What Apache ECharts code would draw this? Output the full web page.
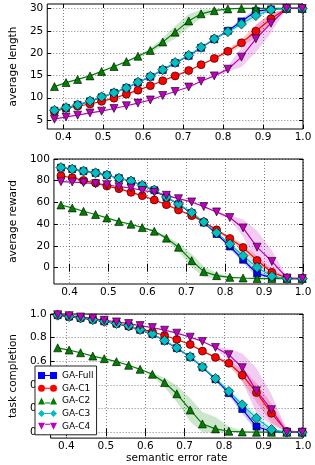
<!DOCTYPE html>
<html><head><meta charset="utf-8">
<script src="https://cdn.jsdelivr.net/npm/echarts@6/dist/echarts.min.js"></script>
<style>html,body{margin:0;padding:0;background:#fff}#c{width:315px;height:465px}</style>
</head><body><div id="c"></div>
<script>
// ---- data ----
const X = [0.378, 0.407, 0.436, 0.467, 0.496, 0.527, 0.558, 0.587, 0.618, 0.649, 0.680, 0.714, 0.745, 0.778, 0.812, 0.846, 0.882, 0.920, 0.959, 0.998];
const xTicks = [0.4, 0.5, 0.6, 0.7, 0.8, 0.9, 1.0];
const lenTicks = [5, 10, 15, 20, 25, 30];
const rewTicks = [0, 20, 40, 60, 80, 100];
const cmpTicks = [0.0, 0.2, 0.4, 0.6, 0.8, 1.0];
const seriesNames = ['GA-Full', 'GA-C1', 'GA-C2', 'GA-C3', 'GA-C4'];

const lenFull = [7.1, 7.7, 8.4, 9.2, 10.1, 11.1, 12.2, 13.4, 14.7, 16.2, 17.8, 19.4, 21.2, 23.1, 25.0, 27.1, 29.4, 29.8, 30, 30];
const lenC1   = [6.9, 7.7, 8.1, 8.6, 9.2, 9.9, 10.8, 11.7, 12.7, 13.8, 14.9, 16.1, 17.4, 18.8, 20.4, 22.3, 24.9, 27.7, 30, 30];
const lenC2   = [12.5, 13.4, 14.1, 14.9, 15.9, 17.0, 18.1, 19.3, 20.6, 22.5, 24.7, 27.2, 28.8, 29.5, 29.9, 30, 30, 30, 30, 30];
const lenC3   = [7.2, 7.8, 8.4, 9.3, 10.2, 11.1, 12.2, 13.5, 14.8, 16.3, 17.9, 19.5, 21.3, 23.2, 24.8, 26.5, 28.4, 29.7, 30, 30];
const lenC4   = [5.2, 5.7, 6.1, 6.6, 7.0, 7.6, 8.2, 8.8, 9.5, 10.5, 11.4, 12.4, 13.7, 14.9, 16.4, 19.1, 23.2, 26.7, 30, 30];

const rewFull = [92.0, 90.6, 88.8, 87.2, 85.1, 82.3, 79.6, 75.5, 71.3, 64.8, 58.3, 50.2, 41.5, 31.0, 19.5, 7.3, -5.5, -9.2, -10, -10];
const rewC1   = [84.6, 82.7, 80.3, 77.9, 75.1, 72.7, 69.3, 66.3, 62.3, 58.0, 53.1, 47.9, 42.1, 34.8, 26.9, 18.6, 6.7, -4.3, -9.5, -10];
const rewC2   = [57.7, 55.0, 51.9, 48.9, 45.8, 42.4, 40.0, 36.9, 33.6, 27.2, 18.8, 6.5, -3.6, -7.3, -8.9, -9.5, -10, -10, -10, -10];
const rewC3   = [92.2, 90.7, 88.9, 87.3, 85.2, 82.4, 79.7, 75.7, 71.5, 65.0, 58.6, 50.7, 42.1, 32.1, 21.7, 11.0, 0.3, -7.9, -10, -10];
const rewC4   = [79.1, 78.8, 78.2, 77.3, 76.3, 74.5, 73.3, 71.1, 69.3, 66.6, 63.5, 60.5, 56.2, 51.3, 46.1, 36.6, 18.9, 5.8, -9.5, -10];

const cmpFull = [0.99, 0.978, 0.966, 0.952, 0.938, 0.918, 0.898, 0.866, 0.830, 0.773, 0.711, 0.636, 0.549, 0.448, 0.33, 0.196, 0.048, 0.006, 0, 0];
const cmpC1   = [0.99, 0.978, 0.966, 0.952, 0.938, 0.919, 0.896, 0.874, 0.849, 0.818, 0.784, 0.742, 0.686, 0.633, 0.583, 0.482, 0.336, 0.16, 0.006, 0];
const cmpC2   = [0.714, 0.695, 0.672, 0.644, 0.622, 0.597, 0.566, 0.532, 0.49, 0.42, 0.325, 0.188, 0.07, 0.028, 0.008, 0.002, 0, 0, 0, 0];
const cmpC3   = [0.99, 0.978, 0.966, 0.952, 0.938, 0.919, 0.90, 0.868, 0.832, 0.776, 0.714, 0.639, 0.552, 0.454, 0.345, 0.232, 0.118, 0.022, 0, 0];
const cmpC4   = [0.994, 0.986, 0.975, 0.964, 0.947, 0.933, 0.919, 0.902, 0.885, 0.863, 0.838, 0.804, 0.768, 0.717, 0.655, 0.546, 0.35, 0.19, 0, 0];

// spread (half-width of shaded band)
const sdLenFull = [0,0,0,0,0,0,0,0,0,0,0,0,0,0.1,0.3,0.6,0.5,0.2,0,0];
const sdLenC1   = [0,0,0,0,0,0,0,0,0,0,0,0,0,0.3,0.5,0.8,1.5,1.3,0,0];
const sdLenC2   = [0,0,0,0,0,0,0,0.2,0.5,0.9,1.4,1.5,0.9,0.4,0.1,0,0,0,0,0];
const sdLenC3   = [0,0,0,0,0,0,0,0,0,0,0,0,0,0.1,0.3,0.6,0.8,0.3,0,0];
const sdLenC4   = [0,0,0,0,0,0,0,0,0,0,0,0,0,0.2,0.6,2.2,3.0,2.2,0,0];

const sdRewFull = [0,0,0,0,0,0,0,0,0,0,0,0,0,1,2,3,3,1,0,0];
const sdRewC1   = [0,0,0,0,0,0,0,0,0,0,0,0,0,1,2,3.5,4,3,0.5,0];
const sdRewC2   = [0,0,0,0,0,0,0,0,1,2,4,6,5,2.5,1,0,0,0,0,0];
const sdRewC3   = [0,0,0,0,0,0,0,0,0,0,0,0,0,1,2,3,4,1.5,0,0];
const sdRewC4   = [0,0,0,0,0,0,0,0,0,0,0,0,0,1,2,8,15,10,1,0];

const sdCmpFull = [0,0,0,0,0,0,0,0,0,0,0,0,0,0.01,0.02,0.04,0.04,0.01,0,0];
const sdCmpC1   = [0,0,0,0,0,0,0,0,0,0,0,0,0,0.01,0.02,0.05,0.08,0.08,0.02,0];
const sdCmpC2   = [0,0,0,0,0,0,0,0,0.015,0.04,0.07,0.1,0.1,0.1,0.04,0.01,0,0,0,0];
const sdCmpC3   = [0,0,0,0,0,0,0,0,0,0,0,0,0,0.01,0.02,0.03,0.04,0.02,0,0];
const sdCmpC4   = [0,0,0,0,0,0,0,0,0,0,0,0,0,0.01,0.05,0.12,0.19,0.13,0.02,0];

// ---- styling ----
const FONT = 'DejaVu Sans';
const colors = ['#0000ff', '#ff0000', '#008000', '#00bfbf', '#bf00bf'];
const symbols = ['rect', 'circle', 'triangle', 'diamond', 'triangle'];
const symSizes = [7, 8, 8, 10, 8];
const symRot = [0, 0, 0, 0, 180];
const iconPaths = [
  'M0 0H7V7H0Z M7 3H12V4H7Z M12 0H19V7H12Z',
  'M0 3.5A3.5 3.5 0 1 1 7 3.5A3.5 3.5 0 1 1 0 3.5Z M7 3H12V4H7Z M12 3.5A3.5 3.5 0 1 1 19 3.5A3.5 3.5 0 1 1 12 3.5Z',
  'M3.5 0L7 7H0Z M7 5H12V6H7Z M15.5 0L19 7H12Z',
  'M3.5 0L7 3.5L3.5 7L0 3.5Z M7 3H12V4H7Z M15.5 0L19 3.5L15.5 7L12 3.5Z',
  'M0 0H7L3.5 7Z M7 1H12V2H7Z M12 0H19L15.5 7Z'
];

const panels = [
  { vals: [lenFull, lenC1, lenC2, lenC3, lenC4], sds: [sdLenFull, sdLenC1, sdLenC2, sdLenC3, sdLenC4],
    min: 3, max: 31, ticks: lenTicks, name: 'average length', fmt: v => String(Math.round(v)), lo: -1e9, hi: 30, top: 4 },
  { vals: [rewFull, rewC1, rewC2, rewC3, rewC4], sds: [sdRewFull, sdRewC1, sdRewC2, sdRewC3, sdRewC4],
    min: -15, max: 100, ticks: rewTicks, name: 'average reward', fmt: v => String(Math.round(v)), lo: -10, hi: 1e9, top: 159 },
  { vals: [cmpFull, cmpC1, cmpC2, cmpC3, cmpC4], sds: [sdCmpFull, sdCmpC1, sdCmpC2, sdCmpC3, sdCmpC4],
    min: -0.05, max: 1.0, ticks: cmpTicks, name: 'task completion', fmt: v => v.toFixed(1), lo: 0, hi: 1, top: 314 }
];

const grids = [], xAxes = [], yAxes = [], series = [];
const splitStyle = { color: '#000', type: [1, 2], width: 0.7, opacity: 0.7 };
const labelStyle = { fontSize: 10.5, fontFamily: FONT, color: '#000' };

panels.forEach((p, pi) => {
  grids.push({ left: 31, top: p.top, width: 272, height: 125, show: true, borderColor: '#000', borderWidth: 1, backgroundColor: 'transparent' });
  xAxes.push({
    type: 'value', gridIndex: pi, min: 0.36, max: 1.0,
    axisLine: { show: false },
    axisTick: { show: true, inside: true, length: 4, customValues: xTicks, lineStyle: { color: '#000', width: 1 } },
    axisLabel: { customValues: xTicks, formatter: v => v.toFixed(1), margin: 3, ...labelStyle },
    splitLine: { show: true, lineStyle: splitStyle },
    name: pi === 2 ? 'semantic error rate' : '', nameLocation: 'middle', nameGap: 11,
    nameTextStyle: { fontSize: 10.5, fontFamily: FONT, color: '#000' }
  });
  yAxes.push({
    type: 'value', gridIndex: pi, min: p.min, max: p.max,
    axisLine: { show: false },
    axisTick: { show: true, inside: true, length: 4, customValues: p.ticks, lineStyle: { color: '#000', width: 1 } },
    axisLabel: { customValues: p.ticks, formatter: p.fmt, margin: 4, ...labelStyle },
    splitLine: { show: true, lineStyle: splitStyle },
    name: p.name, nameLocation: 'middle', nameGap: 21,
    nameTextStyle: { fontSize: 10.5, fontFamily: FONT, color: '#000' }
  });
});
// opposite-side ticks (top / right)
panels.forEach((p, pi) => {
  xAxes.push({ type: 'value', gridIndex: pi, position: 'top', min: 0.36, max: 1.0,
    axisLine: { show: false }, axisLabel: { show: false }, splitLine: { show: false },
    axisTick: { show: true, inside: true, length: 4, customValues: xTicks, lineStyle: { color: '#000' } } });
  yAxes.push({ type: 'value', gridIndex: pi, position: 'right', min: p.min, max: p.max,
    axisLine: { show: false }, axisLabel: { show: false }, splitLine: { show: false },
    axisTick: { show: true, inside: true, length: 4, customValues: p.ticks, lineStyle: { color: '#000' } } });
});

function clamp(v, lo, hi) { return Math.max(lo, Math.min(hi, v)); }

panels.forEach((p, pi) => {
  p.vals.forEach((vals, k) => {
    const sd = p.sds[k];
    let first = -1, last = -1;
    sd.forEach((s, i) => { if (s > 0) { if (first < 0) first = i; last = i; } });
    if (first < 0) return;
    const i0 = Math.max(0, first - 1), i1 = Math.min(X.length - 1, last + 1);
    series.push({
      type: 'custom', name: 'band-' + pi + '-' + k, xAxisIndex: pi, yAxisIndex: pi, z: 1, silent: true,
      data: X.map((x, i) => [x, vals[i]]),
      encode: { x: 0, y: 1 },
      renderItem: function (params, api) {
        if (params.dataIndex !== 0) return null;
        const pts = [];
        for (let i = i0; i <= i1; i++) pts.push(api.coord([X[i], clamp(vals[i] + sd[i], p.lo, p.hi)]));
        for (let i = i1; i >= i0; i--) pts.push(api.coord([X[i], clamp(vals[i] - sd[i], p.lo, p.hi)]));
        return { type: 'polygon', shape: { points: pts }, style: { fill: colors[k], opacity: 0.2, stroke: null } };
      }
    });
  });
  p.vals.forEach((vals, k) => {
    series.push({
      type: 'line', name: seriesNames[k], xAxisIndex: pi, yAxisIndex: pi, z: 3,
      data: X.map((x, i) => [x, vals[i]]),
      symbol: symbols[k], symbolSize: symSizes[k], symbolRotate: symRot[k], showAllSymbol: true,
      itemStyle: { color: colors[k], borderColor: '#000', borderWidth: 0.6, opacity: 1 },
      lineStyle: { color: colors[k], width: 1.2 },
      emphasis: { disabled: true }
    });
  });
});

const chart = echarts.init(document.getElementById('c'), null, { renderer: 'canvas' });
chart.setOption({
  animation: false,
  backgroundColor: '#fff',
  grid: grids, xAxis: xAxes, yAxis: yAxes, series: series,
  legend: {
    data: seriesNames.map((n, k) => ({ name: n, icon: 'path://' + iconPaths[k] })),
    orient: 'vertical', left: 35, top: 366, itemWidth: 19, itemHeight: 7, itemGap: 3.7,
    padding: [5, 3, 4, 3], backgroundColor: '#fff', borderColor: '#222', borderWidth: 1,
    textStyle: { fontSize: 9, fontFamily: FONT, color: '#000', lineHeight: 9 },
    itemStyle: { borderWidth: 0 }, selectedMode: false, z: 10
  }
});
</script></body></html>
